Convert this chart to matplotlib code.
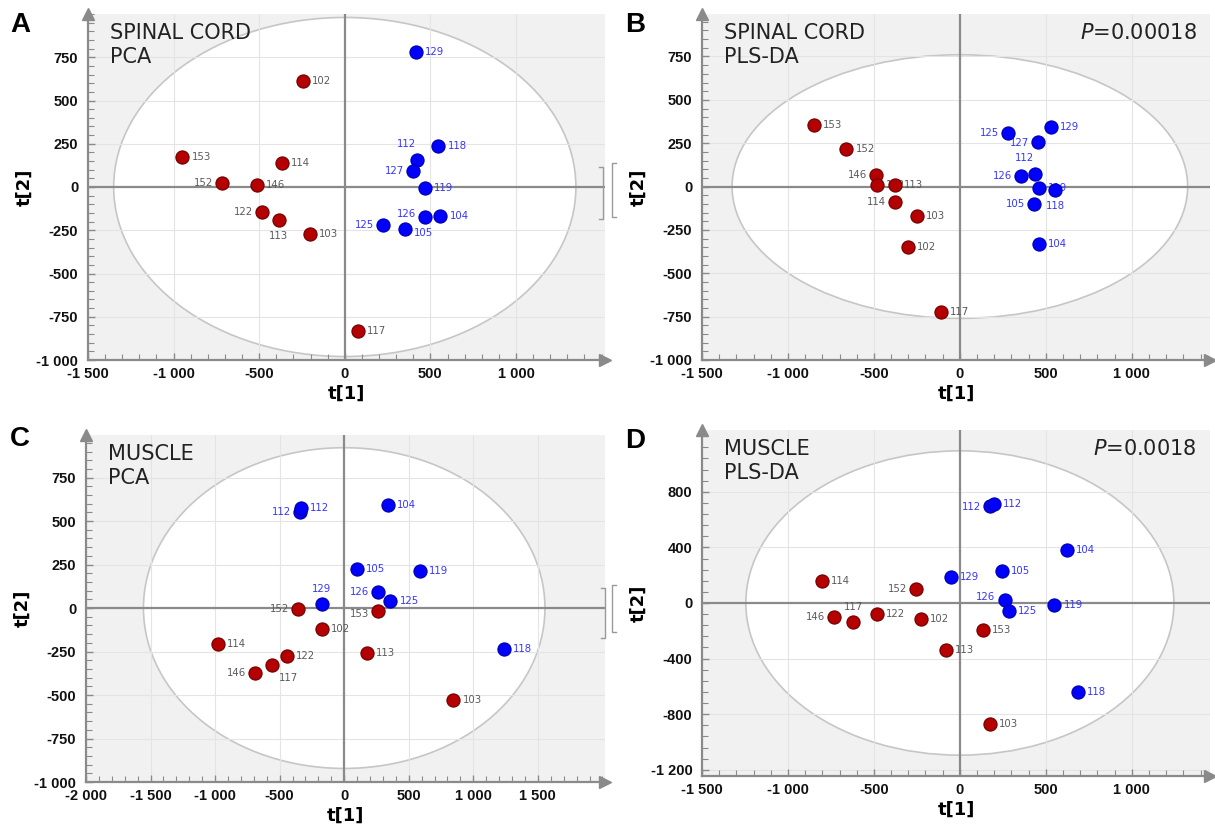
import matplotlib
matplotlib.use('Agg')

import numpy as np
import matplotlib.pyplot as plt
from matplotlib.patches import Ellipse
from matplotlib.lines import Line2D
from matplotlib.ticker import MultipleLocator, FixedLocator, FuncFormatter

# ---- data ---------------------------------------------------------------
# A: spinal cord, PCA
a_ids = ['153', '152', '146', '114', '102', '122', '113', '103', '117',
         '129', '118', '112', '127', '119', '126', '104', '125', '105']
a_t1 = [-948, -717, -513, -369, -244, -482, -387, -204, 77,
        416, 547, 421, 398, 468, 468, 559, 222, 353]
a_t2 = [171, 23, 11, 140, 615, -146, -192, -272, -832,
        780, 238, 157, 90, -6, -171, -165, -220, -245]
a_grp = ['r'] * 9 + ['b'] * 9
a_ellipse = [1350, 980]

# B: spinal cord, PLS-DA
b_ids = ['153', '152', '146', '122', '113', '114', '103', '102', '117',
         '125', '129', '127', '112', '126', '119', '118', '105', '104']
b_t1 = [-848, -660, -486, -484, -380, -380, -249, -301, -111,
        280, 532, 455, 439, 355, 461, 554, 432, 461]
b_t2 = [356, 217, 65, 10, 8, -88, -169, -351, -722,
        308, 341, 255, 71, 59, -6, -21, -98, -333]
b_grp = ['r'] * 9 + ['b'] * 9
b_ellipse = [1325, 760]

# C: muscle, PCA
c_ids = ['152', '102', '153', '114', '122', '117', '146', '113', '103',
         '112', '112', '104', '105', '119', '129', '126', '125', '118']
c_t1 = [-355, -169, 265, -976, -443, -557, -693, 175, 846,
        -343, -334, 340, 99, 584, -175, 265, 358, 1235]
c_t2 = [-6, -119, -19, -205, -274, -328, -374, -261, -527,
        554, 577, 594, 224, 215, 21, 90, 40, -234]
c_grp = ['r'] * 9 + ['b'] * 9
c_ellipse = [1555, 922]

# D: muscle, PLS-DA
d_ids = ['114', '152', '146', '117', '122', '102', '153', '113', '103',
         '112', '112', '104', '105', '129', '126', '125', '119', '118']
d_t1 = [-803, -253, -733, -620, -482, -224, 136, -81, 176,
        176, 199, 622, 244, -54, 260, 285, 550, 685]
d_t2 = [160, 103, -101, -139, -79, -113, -192, -340, -872,
        699, 714, 381, 228, 189, 24, -60, -14, -637]
d_grp = ['r'] * 9 + ['b'] * 9
d_ellipse = [1245, 1095]

# axis ticks
ticks_x = [-1500, -1000, -500, 0, 500, 1000]
ticks_x_wide = [-2000, -1500, -1000, -500, 0, 500, 1000, 1500]
ticks_y = [-1000, -750, -500, -250, 0, 250, 500, 750]
ticks_y_d = [-1200, -800, -400, 0, 400, 800]

# ---- label placement (pixels from point centre) ---------------------------
R, L, U, D = (9, 0), (-9, 0), (0, 15), (0, -16)
a_off = [R, L, R, R, R, L, D, R, R,
         R, R, (-1, 16), L, R, (-9, 3), R, L, (9, -4)]
b_off = [R, R, L, R, R, L, R, R, R,
         L, R, (-9, -1), (-1, 16), L, R, D, L, R]
c_off = [L, R, (-9, -3), R, R, (7, -13), L, R, R,
         L, R, R, R, R, U, L, R, R]
d_off = [R, L, L, U, R, R, R, R, R,
         (-9, -1), R, R, R, R, (-9, 3), R, R, R]

FILL = {'r': '#b40000', 'b': '#0000ff'}
EDGE = {'r': '#6e0000', 'b': '#0000a8'}
TXT = {'r': '#5a5a5a', 'b': '#3535ff'}
AXC = '#8a8a8a'

W, H = 1215, 831
fig = plt.figure(figsize=(W / 100, H / 100), dpi=100)


def fmt(v, pos):
    return f"{int(round(v)):,}".replace(',', ' ')


def panel(rect, ids, t1, t2, grp, off, ell, xlim, ylim, xt, yt,
          title, pval=None):
    ax = fig.add_axes(rect)
    ax.set_facecolor('#f1f1f1')

    ax.add_patch(Ellipse((0, 0), 2 * ell[0], 2 * ell[1], facecolor='white',
                         edgecolor='#c6c6c6', lw=1.2, zorder=0.2))

    ax.xaxis.set_major_locator(FixedLocator(xt))
    ax.xaxis.set_minor_locator(MultipleLocator((xt[1] - xt[0]) / 5))
    ax.yaxis.set_major_locator(FixedLocator(yt))
    ax.yaxis.set_minor_locator(MultipleLocator((yt[1] - yt[0]) / 5))
    ax.xaxis.set_major_formatter(FuncFormatter(fmt))
    ax.yaxis.set_major_formatter(FuncFormatter(fmt))

    for v in xt:
        if v != 0 and v > xlim[0]:
            ax.axvline(v, color='#e4e4e4', lw=0.8, zorder=0.4)
    for v in yt:
        if v != 0 and v > ylim[0]:
            ax.axhline(v, color='#e4e4e4', lw=0.8, zorder=0.4)
    ax.set_xlim(xlim)
    ax.set_ylim(ylim)

    ax.axhline(0, color=AXC, lw=1.6, zorder=1)
    ax.axvline(0, color=AXC, lw=1.6, zorder=1)

    for s in ['top', 'right']:
        ax.spines[s].set_visible(False)
    for s in ['left', 'bottom']:
        ax.spines[s].set_color(AXC)
        ax.spines[s].set_linewidth(1.6)
    ax.plot(1, 0, '>', color=AXC, ms=8, transform=ax.transAxes, clip_on=False)
    ax.plot(0, 1, '^', color=AXC, ms=8, transform=ax.transAxes, clip_on=False)

    ax.tick_params(which='both', direction='in', color=AXC)
    ax.tick_params(which='major', length=5, width=1)
    ax.tick_params(which='minor', length=4, width=0.8)
    ax.tick_params(labelsize=10.5, labelcolor='#111111')
    ax.tick_params(axis='x', pad=5)
    ax.tick_params(axis='y', pad=7)
    for lab in ax.get_xticklabels() + ax.get_yticklabels():
        lab.set_fontweight('bold')
        lab.set_family('Liberation Sans')

    ax.set_xlabel('t[1]', fontsize=13, fontweight='bold', labelpad=3)
    ax.set_ylabel('t[2]', fontsize=13, fontweight='bold', labelpad=2)

    for i in range(len(ids)):
        g = grp[i]
        ax.scatter(t1[i], t2[i], s=90, color=FILL[g], edgecolor=EDGE[g],
                   linewidth=0.8, zorder=4)
        dx, dy = off[i]
        ha = 'left' if dx > 0 else ('right' if dx < 0 else 'center')
        ax.annotate(ids[i], (t1[i], t2[i]), xytext=(dx, dy),
                    textcoords='offset pixels', ha=ha, va='center',
                    fontsize=7.3, color=TXT[g], zorder=3)

    ax.text(0.043, 0.975, title, transform=ax.transAxes, ha='left', va='top',
            fontsize=15, color='#222222', linespacing=1.25)
    if pval:
        ax.text(0.974, 0.975, pval, transform=ax.transAxes, ha='right',
                va='top', fontsize=15, color='#222222')
    return ax


def box(l, t, r, b):
    return [l / W, 1 - b / H, (r - l) / W, (b - t) / H]


panel(box(88, 14, 605, 360), a_ids, a_t1, a_t2, a_grp, a_off, a_ellipse,
      (-1500, 1520), (-1000, 1000), ticks_x, ticks_y, 'SPINAL CORD\nPCA')
panel(box(702, 14, 1210, 360), b_ids, b_t1, b_t2, b_grp, b_off, b_ellipse,
      (-1500, 1455), (-1000, 995), ticks_x, ticks_y, 'SPINAL CORD\nPLS-DA',
      '$P$=0.00018')
panel(box(86, 435, 605, 782), c_ids, c_t1, c_t2, c_grp, c_off, c_ellipse,
      (-2000, 2020), (-1000, 995), ticks_x_wide, ticks_y, 'MUSCLE\nPCA')
panel(box(702, 430, 1210, 776), d_ids, d_t1, d_t2, d_grp, d_off, d_ellipse,
      (-1500, 1455), (-1245, 1245), ticks_x, ticks_y_d, 'MUSCLE\nPLS-DA',
      '$P$=0.0018')

# panel letters
for letter, x, y in [('A', 10, 12), ('B', 625, 12), ('C', 10, 426), ('D', 625, 428)]:
    fig.text(x / W, 1 - y / H, letter, ha='left', va='top', fontsize=20,
             fontweight='bold', family='Liberation Sans')

# small leftover brackets from a cropped legend
for x, t, b, d in [(603, 167, 219, -4), (605, 588, 638, -4),
                   (612, 163, 217, 4), (612, 585, 632, 4)]:
    fig.add_artist(Line2D([(x + d) / W, x / W, x / W, (x + d) / W],
                          [1 - t / H, 1 - t / H, 1 - b / H, 1 - b / H],
                          color='#9a9a9a', lw=1))

fig.savefig('out.png', dpi=100)
